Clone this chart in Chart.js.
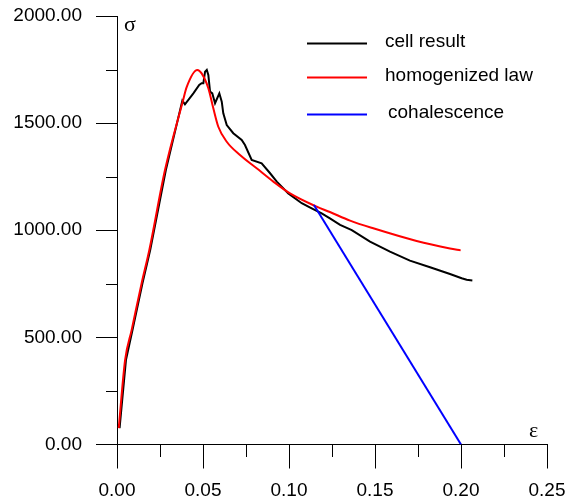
<!DOCTYPE html>
<html><head><meta charset="utf-8">
<script src="https://cdn.jsdelivr.net/npm/chart.js@4"></script>
<style>html,body{margin:0;padding:0;background:#fff}#wrap{width:566px;height:501px}</style>
</head><body><div id="wrap"><canvas id="c" width="566" height="501"></canvas></div>
<script>
const seriesNames = ['cell result', 'homogenized law', 'cohalescence'];
const cellStrain = [0.0015, 0.0052, 0.0090, 0.0148, 0.0193, 0.0284, 0.0380, 0.0395, 0.0444, 0.0478, 0.0492, 0.0502, 0.0512, 0.0522, 0.0531, 0.0541, 0.0554, 0.0570, 0.0595, 0.0609, 0.0618, 0.0638, 0.0676, 0.0725, 0.0744, 0.0783, 0.0841, 0.0890, 0.0929, 0.0996, 0.1074, 0.1132, 0.1190, 0.1238, 0.1297, 0.1365, 0.1471, 0.1587, 0.1703, 0.1820, 0.1936, 0.2004, 0.2033, 0.2066];
const cellStress = [76, 394, 534, 752, 908, 1281, 1605, 1588, 1639, 1678, 1686, 1686, 1740, 1748, 1725, 1647, 1639, 1593, 1639, 1600, 1546, 1491, 1453, 1421, 1398, 1328, 1312, 1266, 1227, 1172, 1126, 1102, 1079, 1055, 1025, 1001, 947, 900, 858, 827, 796, 776, 769, 766];
const homStrain = [0.0010, 0.0047, 0.0085, 0.0143, 0.0188, 0.0279, 0.0382, 0.0405, 0.0467, 0.0492, 0.0531, 0.0560, 0.0589, 0.0638, 0.0715, 0.0812, 0.0909, 0.1006, 0.1161, 0.1238, 0.1355, 0.1490, 0.1742, 0.1936, 0.1998];
const homStress = [76, 394, 534, 752, 908, 1281, 1600, 1668, 1748, 1732, 1663, 1569, 1483, 1413, 1351, 1289, 1227, 1172, 1110, 1085, 1045, 1009, 950, 915, 906];
const cohStrain = [0.1145, 0.2000];
const cohStress = [1118, 0];
const xTickLabels = ['0.00', '0.05', '0.10', '0.15', '0.20', '0.25'];
const yTickLabels = ['0.00', '500.00', '1000.00', '1500.00', '2000.00'];
const xSymbol = '\u03b5';
const ySymbol = '\u03c3';

const pts = (xs, ys) => xs.map((v, i) => ({x: v, y: ys[i]}));
const FONT = 'Liberation Sans, Arial, sans-serif';

const extras = {
  id: 'extras',
  afterDraw(chart) {
    const {ctx, scales: {x, y}, chartArea: ca} = chart;
    ctx.save();
    ctx.strokeStyle = '#000';
    ctx.lineWidth = 1;
    ctx.beginPath();
    for (let i = 0; i < xTickLabels.length - 1; i++) {
      const v = (i + 0.5) * 0.05;
      const px = Math.round(x.getPixelForValue(v)) + 0.5;
      ctx.moveTo(px, Math.round(ca.bottom)); ctx.lineTo(px, Math.round(ca.bottom) + 12);
    }
    for (let i = 0; i < yTickLabels.length - 1; i++) {
      const v = (i + 0.5) * 500;
      const py = Math.round(y.getPixelForValue(v)) + 0.5;
      ctx.moveTo(Math.round(ca.left) - 11, py); ctx.lineTo(Math.round(ca.left), py);
    }
    ctx.stroke();
    ctx.fillStyle = '#000';
    ctx.font = '22px Liberation Serif, DejaVu Serif, serif';
    ctx.textBaseline = 'middle';
    ctx.textAlign = 'left';
    ctx.fillText(ySymbol, ca.left + 7, ca.top + 9);
    ctx.fillText(xSymbol, ca.right - 18, ca.bottom - 13);
    const rows = [43, 77, 114];
    chart.data.datasets.forEach((ds, i) => {
      const yy = rows[i] + 0.5;
      ctx.strokeStyle = ds.borderColor;
      ctx.lineWidth = 2;
      ctx.beginPath();
      ctx.moveTo(307, yy); ctx.lineTo(367, yy);
      ctx.stroke();
      ctx.fillStyle = '#000';
      ctx.font = '19px ' + FONT;
      ctx.textBaseline = 'middle';
      ctx.fillText(ds.label, 385 + (i === 2 ? 3 : 0), yy - 2);
    });
    ctx.restore();
  }
};

new Chart(document.getElementById('c'), {
  type: 'line',
  data: {
    datasets: [
      {label: seriesNames[0], data: pts(cellStrain, cellStress), borderColor: '#000000', borderWidth: 2, pointRadius: 0, tension: 0, order: 2},
      {label: seriesNames[1], data: pts(homStrain, homStress), borderColor: '#ff0000', borderWidth: 2, pointRadius: 0, cubicInterpolationMode: 'monotone', order: 1},
      {label: seriesNames[2], data: pts(cohStrain, cohStress), borderColor: '#0000ff', borderWidth: 2, pointRadius: 0, tension: 0, order: 0}
    ]
  },
  options: {
    responsive: false,
    devicePixelRatio: 1,
    animation: false,
    layout: {padding: {left: 0, right: 19, top: 16, bottom: 0}},
    plugins: {legend: {display: false}, tooltip: {enabled: false}},
    scales: {
      x: {
        type: 'linear', min: 0, max: 0.25,
        afterFit: s => { s.height = 56.5; s.paddingLeft = 0; s.paddingRight = 0; },
        ticks: {stepSize: 0.05, padding: 11, color: '#000', font: {family: FONT, size: 19},
          callback: v => xTickLabels[Math.round(v / 0.05)], maxRotation: 0},
        grid: {drawOnChartArea: false, drawTicks: true, tickLength: 24, tickColor: '#000'},
        border: {color: '#000', width: 1}
      },
      y: {
        type: 'linear', min: 0, max: 2000,
        afterFit: s => { s.width = 117; s.paddingTop = 0; s.paddingBottom = 0; },
        ticks: {stepSize: 500, padding: 14, color: '#000', font: {family: FONT, size: 19},
          callback: v => yTickLabels[Math.round(v / 500)]},
        grid: {drawOnChartArea: false, drawTicks: true, tickLength: 21, tickColor: '#000'},
        border: {color: '#000', width: 1}
      }
    }
  },
  plugins: [extras]
});
</script>
</body></html>
